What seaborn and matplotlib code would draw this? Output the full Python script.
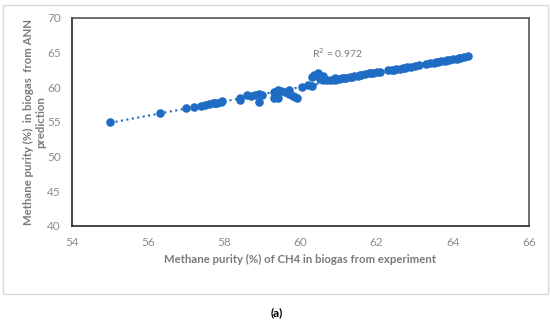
import matplotlib
matplotlib.use("Agg")

import matplotlib.pyplot as plt
import seaborn as sns
from matplotlib.patches import Rectangle

# measured CH4 purity (%) from experiment
experiment = [
    55.0, 56.3, 57.0, 57.2, 57.4, 57.5, 57.6, 57.7, 57.75, 57.8, 57.9, 57.95,
    58.4, 58.4, 58.6, 58.7, 58.8, 58.9, 58.9, 59.0, 59.3, 59.3,
    59.4, 59.4, 59.5, 59.6, 59.7, 59.7, 59.8, 59.85, 59.9,
    60.05, 60.2, 60.3, 60.3, 60.35, 60.45, 60.5, 60.6, 60.6, 60.9,
    60.7, 60.8, 60.9, 61.0, 61.1, 61.15, 61.2, 61.3, 61.35, 61.4, 61.5,
    61.55, 61.6, 61.7, 61.8, 61.85, 61.9, 62.0, 62.1,
    62.3, 62.4, 62.45, 62.5, 62.6, 62.7, 62.75, 62.8, 62.9, 63.0, 63.1,
    63.3, 63.4, 63.5, 63.55, 63.6, 63.7, 63.8, 63.85, 63.9, 64.0, 64.1,
    64.15, 64.2, 64.3, 64.4,
]

# predicted CH4 purity (%) from the ANN
predicted = [
    55.0, 56.3, 57.0, 57.2, 57.3, 57.5, 57.6, 57.7, 57.75, 57.8, 57.9, 58.0,
    58.2, 58.5, 58.9, 58.7, 58.9, 59.0, 57.9, 58.9, 59.3, 58.5,
    59.6, 58.5, 59.5, 59.3, 59.6, 59.1, 58.8, 58.6, 58.5,
    60.0, 60.3, 61.5, 60.2, 61.8, 62.1, 61.2, 61.0, 61.6, 61.3,
    61.0, 61.05, 61.1, 61.2, 61.3, 61.35, 61.4, 61.5, 61.55, 61.6, 61.7,
    61.75, 61.8, 61.9, 62.0, 62.0, 62.1, 62.2, 62.2,
    62.45, 62.5, 62.55, 62.6, 62.7, 62.8, 62.85, 62.9, 63.0, 63.1, 63.2,
    63.4, 63.5, 63.55, 63.6, 63.65, 63.75, 63.85, 63.9, 63.95, 64.05, 64.15,
    64.2, 64.25, 64.35, 64.45,
]

x_ticks = [54, 56, 58, 60, 62, 64, 66]
y_ticks = [40, 45, 50, 55, 60, 65, 70]

sns.set_style("white")
plt.rcParams["font.family"] = ["Lato", "DejaVu Sans"]

blue = "#1f6cc4"
grey_text = "#7a7a7a"

fig = plt.figure(figsize=(5.5, 3.24), dpi=100)
ax = fig.add_axes([72 / 550, 1 - 226 / 324, 457 / 550, 208 / 324])

# outer light chart-area frame
fig.patches.append(Rectangle((3 / 550, 1 - 294 / 324), 545 / 550, 289 / 324,
                             transform=fig.transFigure, fill=False,
                             edgecolor="#d9d9d9", linewidth=1.0))

# scatter with dotted linear trendline
sns.regplot(x=experiment, y=predicted, ci=None, ax=ax,
            scatter_kws={"s": 38, "color": blue, "linewidths": 0, "alpha": 1},
            line_kws={"color": blue, "linestyle": ":", "linewidth": 1.5})

ax.set_xlim(54, 66)
ax.set_ylim(40, 70)
ax.set_xticks(x_ticks)
ax.set_yticks(y_ticks)
ax.tick_params(length=0, labelsize=8.5, labelcolor="#8c8c8c", pad=8)

for side in ["left", "bottom"]:
    ax.spines[side].set_color("#262626")
    ax.spines[side].set_linewidth(1.2)
for side in ["top", "right"]:
    ax.spines[side].set_color("#555555")
    ax.spines[side].set_linewidth(1.2)

ax.set_xlabel("Methane purity (%) of CH4 in biogas from experiment",
              fontsize=8.2, fontweight="bold", color=grey_text)
ax.set_ylabel("Methane purity (%)  in biogas  from ANN\nprediction",
              fontsize=8.2, fontweight="bold", color=grey_text, linespacing=1.1)
ax.xaxis.set_label_coords(0.5, -0.135)
ax.yaxis.set_label_coords(-0.057, 0.5)

ax.text(60.3, 65.0, "R$^2$ = 0.972", fontsize=7.5, color=grey_text, va="center")

fig.text(0.503, 1 - 313 / 324, "(a)", ha="center", va="center",
         fontsize=8.5, fontweight="bold", color="black")

plt.savefig("out.png", dpi=100)
plt.close()
